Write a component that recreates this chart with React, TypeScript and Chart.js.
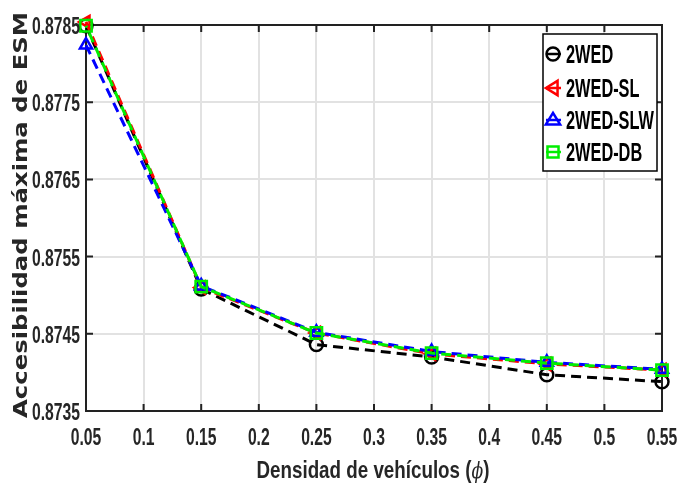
import React, { useEffect, useRef } from "react";
import { Chart, registerables } from "chart.js";

Chart.register(...registerables);

const xValues = [0.05, 0.15, 0.25, 0.35, 0.45, 0.55];
const wedValues = [0.87849, 0.87508, 0.87436, 0.8742, 0.87397, 0.87388];
const slValues = [0.87854, 0.8751, 0.87451, 0.87424, 0.87411, 0.87403];
const slwValues = [0.87824, 0.87512, 0.87452, 0.87427, 0.87413, 0.87404];
const dbValues = [0.87849, 0.87511, 0.87451, 0.87425, 0.87412, 0.87403];

const xTickValues = [0.05, 0.1, 0.15, 0.2, 0.25, 0.3, 0.35, 0.4, 0.45, 0.5, 0.55];
const xTickLabels = ["0.05", "0.1", "0.15", "0.2", "0.25", "0.3", "0.35", "0.4", "0.45", "0.5", "0.55"];
const yTickValues = [0.8735, 0.8745, 0.8755, 0.8765, 0.8775, 0.8785];
const yTickLabels = ["0.8735", "0.8745", "0.8755", "0.8765", "0.8775", "0.8785"];

const seriesNames = ["2WED", "2WED-SL", "2WED-SLW", "2WED-DB"];
const seriesColors = ["#000000", "#ff0000", "#0000ff", "#00ee00"];

const xTitle = "Densidad de vehículos (";
const xTitleSymbol = "ϕ";
const yTitle = "Accesibilidad máxima de ESM";

const AXIS = "#222222";

function drawScaled(
  ctx: CanvasRenderingContext2D,
  text: string,
  font: string,
  x: number,
  y: number,
  sx: number,
  align: "left" | "center" | "right",
  color: string
) {
  ctx.save();
  ctx.font = font;
  const w = ctx.measureText(text).width * sx;
  const x0 = align === "left" ? x : align === "center" ? x - w / 2 : x - w;
  ctx.translate(x0, y);
  ctx.scale(sx, 1);
  ctx.textAlign = "left";
  ctx.textBaseline = "alphabetic";
  ctx.fillStyle = color;
  ctx.fillText(text, 0, 0);
  ctx.restore();
}

function drawMarker(ctx: CanvasRenderingContext2D, kind: number, x: number, y: number, color: string) {
  ctx.save();
  ctx.strokeStyle = color;
  ctx.lineWidth = 2.5;
  ctx.beginPath();
  const r = 6.5;
  if (kind === 0) {
    ctx.arc(x, y, r, 0, Math.PI * 2);
  } else if (kind === 1) {
    ctx.moveTo(x - r * 1.1, y);
    ctx.lineTo(x + r * 0.7, y - r * 1.1);
    ctx.lineTo(x + r * 0.7, y + r * 1.1);
    ctx.closePath();
  } else if (kind === 2) {
    ctx.moveTo(x, y - r * 1.1);
    ctx.lineTo(x + r * 1.1, y + r * 0.7);
    ctx.lineTo(x - r * 1.1, y + r * 0.7);
    ctx.closePath();
  } else {
    ctx.rect(x - r * 0.85, y - r * 0.85, r * 1.7, r * 1.7);
  }
  ctx.stroke();
  ctx.restore();
}

const framePlugin = {
  id: "frame",
  beforeDatasetsDraw(chart: any) {
    const ctx: CanvasRenderingContext2D = chart.ctx;
    const a = chart.chartArea;
    const xs = chart.scales.x;
    const ys = chart.scales.y;
    ctx.save();
    ctx.strokeStyle = AXIS;
    ctx.lineWidth = 2;
    ctx.strokeRect(a.left, a.top, a.right - a.left, a.bottom - a.top);
    const tl = 7;
    ctx.beginPath();
    xTickValues.forEach((v) => {
      const px = xs.getPixelForValue(v);
      ctx.moveTo(px, a.bottom);
      ctx.lineTo(px, a.bottom - tl);
      ctx.moveTo(px, a.top);
      ctx.lineTo(px, a.top + tl);
    });
    yTickValues.forEach((v) => {
      const py = ys.getPixelForValue(v);
      ctx.moveTo(a.left, py);
      ctx.lineTo(a.left + tl, py);
      ctx.moveTo(a.right, py);
      ctx.lineTo(a.right - tl, py);
    });
    ctx.stroke();
    ctx.restore();
  },
  afterDraw(chart: any) {
    const ctx: CanvasRenderingContext2D = chart.ctx;
    const a = chart.chartArea;
    const xs = chart.scales.x;
    const ys = chart.scales.y;

    // tick labels
    const tickFont = 'bold 24px "Liberation Sans", Arial, sans-serif';
    ctx.save();
    ctx.font = tickFont;
    const tsx = 48 / ctx.measureText("0.8755").width;
    ctx.restore();
    xTickValues.forEach((v, i) => {
      drawScaled(ctx, xTickLabels[i], tickFont, xs.getPixelForValue(v), a.bottom + 34, tsx, "center", "#262626");
    });
    yTickValues.forEach((v, i) => {
      drawScaled(ctx, yTickLabels[i], tickFont, a.left - 6, ys.getPixelForValue(v) + 9, tsx, "right", "#262626");
    });

    // x title
    const tFont = 'bold 24px "Liberation Sans", Arial, sans-serif';
    const sFont = 'italic 22px "DejaVu Serif", serif';
    ctx.save();
    ctx.font = tFont;
    const w1 = ctx.measureText(xTitle).width;
    const w3 = ctx.measureText(")").width;
    ctx.font = sFont;
    const w2 = ctx.measureText(xTitleSymbol).width;
    ctx.restore();
    const total = w1 + w2 + w3;
    const xsx = 233 / total;
    const startX = 373 - 233 / 2;
    drawScaled(ctx, xTitle, tFont, startX, 478, xsx, "left", "#262626");
    drawScaled(ctx, xTitleSymbol, sFont, startX + w1 * xsx, 478, xsx, "left", "#262626");
    drawScaled(ctx, ")", tFont, startX + (w1 + w2) * xsx, 478, xsx, "left", "#262626");

    // y title
    ctx.save();
    const yFont = 'bold 19px "DejaVu Sans", sans-serif';
    ctx.font = yFont;
    const yw = ctx.measureText(yTitle).width;
    const ysx = 406 / yw;
    ctx.translate(27, 215);
    ctx.rotate(-Math.PI / 2);
    drawScaled(ctx, yTitle, yFont, 0, 0, ysx, "center", "#262626");
    ctx.restore();

    // legend
    ctx.save();
    ctx.fillStyle = "#ffffff";
    ctx.fillRect(543, 34, 114, 137);
    ctx.strokeStyle = "#000000";
    ctx.lineWidth = 1.5;
    ctx.strokeRect(543, 34, 114, 137);
    ctx.restore();
    const lFont = 'bold 25px "Liberation Sans", Arial, sans-serif';
    ctx.save();
    ctx.font = lFont;
    const lsx = 88 / ctx.measureText("2WED-SLW").width;
    ctx.restore();
    const rows = [54, 88, 120, 152];
    seriesNames.forEach((name, i) => {
      const cy = rows[i];
      ctx.save();
      ctx.strokeStyle = seriesColors[i];
      ctx.lineWidth = 2.5;
      ctx.beginPath();
      ctx.moveTo(546, cy);
      ctx.lineTo(561, cy);
      ctx.stroke();
      ctx.restore();
      drawMarker(ctx, i, 553, cy, seriesColors[i]);
      drawScaled(ctx, name, lFont, 566, cy + 9, lsx, "left", "#000000");
    });
  },
};

function makeData(vals: number[]) {
  return xValues.map((x, i) => ({ x, y: vals[i] }));
}

export default function App() {
  const ref = useRef<HTMLCanvasElement>(null);
  useEffect(() => {
    if (!ref.current) return;
    const common = {
      fill: false,
      borderWidth: 3,
      tension: 0,
      pointRadius: 6.5,
      pointBorderWidth: 2.5,
      pointBackgroundColor: "rgba(0,0,0,0)",
      clip: false as any,
    };
    const chart = new Chart(ref.current, {
      type: "line",
      data: {
        datasets: [
          {
            ...common,
            label: seriesNames[0],
            data: makeData(wedValues),
            borderColor: seriesColors[0],
            pointBorderColor: seriesColors[0],
            pointStyle: "circle",
            borderDash: [10, 6],
            order: 3,
          },
          {
            ...common,
            label: seriesNames[1],
            data: makeData(slValues),
            borderColor: seriesColors[1],
            pointBorderColor: seriesColors[1],
            pointStyle: "triangle",
            pointRotation: 270,
            pointRadius: 7,
            borderDash: [10, 6],
            order: 2,
          },
          {
            ...common,
            label: seriesNames[2],
            data: makeData(slwValues),
            borderColor: seriesColors[2],
            pointBorderColor: seriesColors[2],
            pointStyle: "triangle",
            pointRadius: 7,
            borderDash: [10, 6],
            order: 1,
          },
          {
            ...common,
            label: seriesNames[3],
            data: makeData(dbValues),
            borderColor: seriesColors[3],
            pointBorderColor: seriesColors[3],
            pointStyle: "rect",
            pointRadius: 8,
            borderDash: [10, 6],
            borderDashOffset: 8,
            order: 0,
          },
        ] as any,
      },
      options: {
        responsive: false,
        animation: false,
        devicePixelRatio: 1,
        layout: { padding: { top: 25, right: 18, left: 0, bottom: 0 } },
        plugins: { legend: { display: false }, tooltip: { enabled: false } },
        scales: {
          x: {
            type: "linear",
            min: 0.05,
            max: 0.55,
            ticks: { display: false },
            grid: { color: "#e2e2e2", lineWidth: 2, drawTicks: false },
            border: { display: false },
            afterBuildTicks: (s: any) => {
              s.ticks = xTickValues.map((v) => ({ value: v }));
            },
            afterFit: (s: any) => {
              s.height = 74;
            },
          },
          y: {
            type: "linear",
            min: 0.8735,
            max: 0.8785,
            ticks: { display: false },
            grid: { color: "#e2e2e2", lineWidth: 2, drawTicks: false },
            border: { display: false },
            afterBuildTicks: (s: any) => {
              s.ticks = yTickValues.map((v) => ({ value: v }));
            },
            afterFit: (s: any) => {
              s.width = 86;
            },
          },
        },
      } as any,
      plugins: [framePlugin],
    });
    return () => chart.destroy();
  }, []);
  return (
    <canvas
      ref={ref}
      width={680}
      height={485}
      style={{ position: "absolute", left: 0, top: 0, width: 680, height: 485, display: "block" }}
    />
  );
}
